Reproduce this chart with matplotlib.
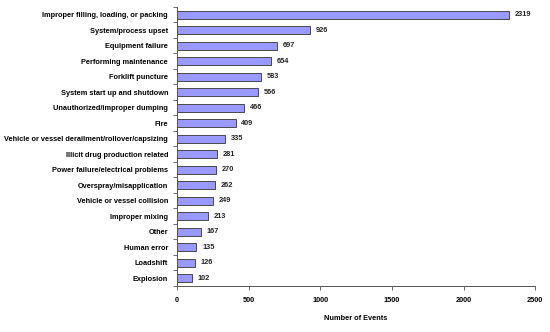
import matplotlib
matplotlib.use("Agg")
import matplotlib.pyplot as plt
import numpy as np

categories = [
    "Improper filling, loading, or packing",
    "System/process upset",
    "Equipment failure",
    "Performing maintenance",
    "Forklift puncture",
    "System start up and shutdown",
    "Unauthorized/improper dumping",
    "Fire",
    "Vehicle or vessel derailment/rollover/capsizing",
    "Illicit drug production related",
    "Power failure/electrical problems",
    "Overspray/misapplication",
    "Vehicle or vessel collision",
    "Improper mixing",
    "Other",
    "Human error",
    "Loadshift",
    "Explosion",
]
events = [2319, 926, 697, 654, 583, 566, 466, 409, 335, 281, 270, 262, 249, 213, 167, 135, 126, 102]
xticks = [0, 500, 1000, 1500, 2000, 2500]

plt.rcParams["font.family"] = ["Liberation Sans", "DejaVu Sans"]
fs = 5.3

fig = plt.figure(figsize=(5.5, 3.32), dpi=100)
ax = fig.add_axes([0.322, 0.139, 0.651, 0.840])

n = len(categories)
y = np.arange(n)
ax.barh(y, events, height=0.52, color="#9999FF", edgecolor="#333333", linewidth=0.6)
for yi, v in zip(y, events):
    ax.text(v + 40, yi, str(v), va="center", ha="left", fontsize=fs, fontweight="bold", color="#222222")

ax.set_ylim(n - 0.5, -0.5)
ax.set_xlim(0, 2500)
ax.set_yticks(y)
ax.set_yticklabels(categories, fontsize=fs, fontweight="bold")
ax.set_yticks(np.arange(-0.5, n, 1), minor=True)
ax.tick_params(axis="y", which="major", length=0, pad=6.5)
ax.tick_params(axis="y", which="minor", length=3, width=0.6, color="#555555")
ax.set_xticks(xticks)
ax.set_xticklabels([str(t) for t in xticks], fontsize=fs, fontweight="bold")
ax.tick_params(axis="x", length=3, width=0.6, color="#555555", pad=5)
ax.set_xlabel("Number of Events", fontsize=fs, fontweight="bold", labelpad=8)

for s in ["top", "right"]:
    ax.spines[s].set_visible(False)
for s in ["left", "bottom"]:
    ax.spines[s].set_color("#555555")
    ax.spines[s].set_linewidth(0.7)

fig.savefig("out.png", dpi=100)
